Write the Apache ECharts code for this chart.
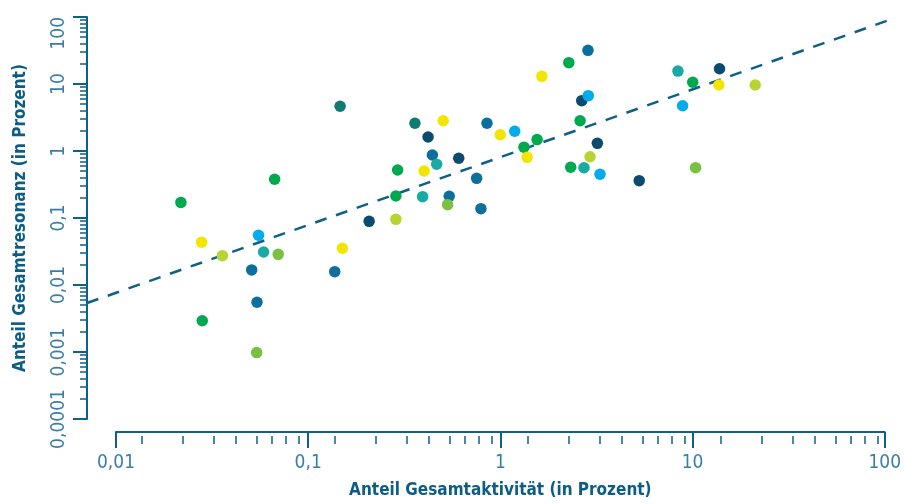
<!DOCTYPE html>
<html>
<head>
<meta charset="utf-8">
<script src="https://cdn.jsdelivr.net/npm/echarts@6/dist/echarts.min.js"></script>
<style>
  html, body { margin: 0; padding: 0; background: #ffffff; }
  #chart { width: 904px; height: 504px; }
</style>
</head>
<body>
<div id="chart"></div>
<script>
// Share of total activity (x, %) vs. share of total resonance (y, %), grouped by colour
const navyX = [0.205, 0.414, 0.597, 2.59, 3.12, 5.14, 13.4];
const navyY = [0.0892, 1.62, 0.778, 5.64, 1.30, 0.361, 16.9];

const blueX = [0.0505, 0.0538, 0.136, 0.836, 0.436, 0.739, 0.533, 0.778, 2.79];
const blueY = [0.0168, 0.00552, 0.0158, 2.59, 0.871, 0.391, 0.211, 0.138, 31.8];

const cyanX = [0.0548, 1.164, 2.80, 3.22, 8.63];
const cyanY = [0.0552, 1.97, 6.70, 0.449, 4.74];

const tealDarkX = [0.145, 0.354];
const tealDarkY = [4.65, 2.59];

const tealX = [0.0582, 0.459, 0.388, 2.66, 8.16];
const tealY = [0.0311, 0.633, 0.208, 0.563, 15.6];

const greenX = [0.0217, 0.028, 0.0664, 1.52, 1.30, 0.288, 0.282, 2.22, 2.54, 2.27, 9.73];
const greenY = [0.171, 0.00293, 0.378, 1.48, 1.14, 0.52, 0.213, 20.8, 2.83, 0.571, 10.6];

const lightGreenX = [0.0693, 0.0536, 0.523, 10.07];
const lightGreenY = [0.0287, 0.00098, 0.158, 0.564];

const yellowGreenX = [0.0356, 0.282, 2.86, 20.5];
const yellowGreenY = [0.0274, 0.0955, 0.822, 9.66];

const yellowX = [0.0278, 0.149, 0.496, 0.98, 1.35, 0.395, 1.61, 13.3];
const yellowY = [0.0434, 0.0353, 2.83, 1.75, 0.805, 0.502, 13.0, 9.66];

// Dashed trend line end points (it runs slightly past both ends of the x scale)
const trendX = [0.00708, 108.7];
const trendY = [0.00538, 96.6];

// Axis ticks
const xMajorTicks = [0.01, 0.1, 1, 10, 100];
const yMajorTicks = [0.0001, 0.001, 0.01, 0.1, 1, 10, 100];
const xMinorSteps = [1.36, 2.21, 3.22, 4.17, 5.35, 6.38, 7.54, 8.87];
const yMinorSteps = [2, 3, 4, 5, 6, 7, 8, 9];

const groups = [
  { x: navyX, y: navyY, color: '#0a4b6e' },
  { x: blueX, y: blueY, color: '#0d6f9c' },
  { x: cyanX, y: cyanY, color: '#00acec' },
  { x: tealDarkX, y: tealDarkY, color: '#0f7b72' },
  { x: tealX, y: tealY, color: '#19aaa6' },
  { x: greenX, y: greenY, color: '#00a84f' },
  { x: lightGreenX, y: lightGreenY, color: '#7ac142' },
  { x: yellowGreenX, y: yellowGreenY, color: '#b8d432' },
  { x: yellowX, y: yellowY, color: '#f2e600' }
];

function minorValues(majors, steps) {
  const out = [];
  for (let i = 0; i < majors.length - 1; i++) {
    steps.forEach(s => out.push(+(majors[i] * s).toPrecision(6)));
  }
  return out;
}

const AXIS = '#0d6088';
const LABEL = '#3a7ea6';
const TITLE = '#0c5d86';
const FONT = "'Liberation Sans Narrow', 'DejaVu Sans Condensed', 'Roboto', sans-serif";
const fmt = v => String(v).replace('.', ',');
const zip = (xs, ys) => xs.map((v, i) => [v, ys[i]]);

const X_FULL = { min: trendX[0], max: trendX[1] };   // plotting range incl. trend line overhang
const X_SCALE = { min: xMajorTicks[0], max: xMajorTicks[xMajorTicks.length - 1] };
const Y_SCALE = { min: yMajorTicks[0], max: yMajorTicks[yMajorTicks.length - 1] };

// grid 0: data plane (y axis with major ticks); grid 1: y minor ticks
// grid 2: x axis with major ticks and labels; grid 3: x minor ticks
// The x scale sits a little below the plot, detached from the y axis.
const plotBox = { left: 87, right: 9, top: 17, bottom: 85 };
const scaleBox = { left: 116, right: 16, top: 17, bottom: 68 };

const series = groups.map(g => ({
  type: 'scatter',
  xAxisIndex: 0,
  yAxisIndex: 0,
  data: zip(g.x, g.y),
  symbol: 'circle',
  symbolSize: 11.5,
  itemStyle: { color: g.color, opacity: 1 },
  z: 3
}));

series.unshift({
  type: 'line',
  xAxisIndex: 0,
  yAxisIndex: 0,
  data: zip(trendX, trendY),
  symbol: 'none',
  silent: true,
  lineStyle: { color: AXIS, width: 2.5, type: [12, 10] },
  z: 2
});

const chart = echarts.init(document.getElementById('chart'), null, { renderer: 'canvas' });
chart.setOption({
  animation: false,
  backgroundColor: '#ffffff',
  grid: [
    Object.assign({ containLabel: false }, plotBox),
    Object.assign({ containLabel: false }, plotBox),
    Object.assign({ containLabel: false }, scaleBox),
    Object.assign({ containLabel: false }, scaleBox)
  ],
  xAxis: [
    { gridIndex: 0, type: 'log', logBase: 10, min: X_FULL.min, max: X_FULL.max, show: false },
    { gridIndex: 1, type: 'log', logBase: 10, min: X_FULL.min, max: X_FULL.max, show: false },
    {
      gridIndex: 2, type: 'log', logBase: 10, min: X_SCALE.min, max: X_SCALE.max,
      position: 'bottom', offset: 0,
      name: 'Anteil Gesamtaktivität (in Prozent)',
      nameLocation: 'middle', nameGap: 50,
      nameTextStyle: { color: TITLE, fontSize: 17, fontWeight: 'bold', fontFamily: FONT },
      axisLine: { show: true, lineStyle: { color: AXIS, width: 2 } },
      axisTick: { show: true, inside: false, length: 16, lineStyle: { color: AXIS, width: 2 }, customValues: xMajorTicks },
      axisLabel: { show: true, color: LABEL, fontSize: 19, fontFamily: FONT, margin: 22, formatter: fmt, customValues: xMajorTicks },
      splitLine: { show: false }
    },
    {
      gridIndex: 3, type: 'log', logBase: 10, min: X_SCALE.min, max: X_SCALE.max,
      position: 'bottom', offset: 0,
      axisLine: { show: false },
      axisTick: { show: true, inside: false, length: 8, lineStyle: { color: AXIS, width: 1.5 }, customValues: minorValues(xMajorTicks, xMinorSteps) },
      axisLabel: { show: false },
      splitLine: { show: false }
    }
  ],
  yAxis: [
    {
      gridIndex: 0, type: 'log', logBase: 10, min: Y_SCALE.min, max: Y_SCALE.max,
      position: 'left', offset: 0,
      name: 'Anteil Gesamtresonanz (in Prozent)',
      nameLocation: 'middle', nameGap: 58,
      nameTextStyle: { color: TITLE, fontSize: 17, fontWeight: 'bold', fontFamily: FONT },
      axisLine: { show: true, lineStyle: { color: AXIS, width: 2 } },
      axisTick: { show: true, inside: false, length: 14, lineStyle: { color: AXIS, width: 2 }, customValues: yMajorTicks },
      axisLabel: { show: true, color: LABEL, fontSize: 19, fontFamily: FONT, rotate: 90, margin: 18, formatter: fmt, customValues: yMajorTicks, alignMaxLabel: 'right' },
      splitLine: { show: false }
    },
    {
      gridIndex: 1, type: 'log', logBase: 10, min: Y_SCALE.min, max: Y_SCALE.max,
      position: 'left', offset: 0,
      axisLine: { show: false },
      axisTick: { show: true, inside: false, length: 7, lineStyle: { color: AXIS, width: 1.5 }, customValues: minorValues(yMajorTicks, yMinorSteps) },
      axisLabel: { show: false },
      splitLine: { show: false }
    },
    { gridIndex: 2, type: 'log', logBase: 10, min: Y_SCALE.min, max: Y_SCALE.max, show: false },
    { gridIndex: 3, type: 'log', logBase: 10, min: Y_SCALE.min, max: Y_SCALE.max, show: false }
  ],
  series: series
});
</script>
</body>
</html>
